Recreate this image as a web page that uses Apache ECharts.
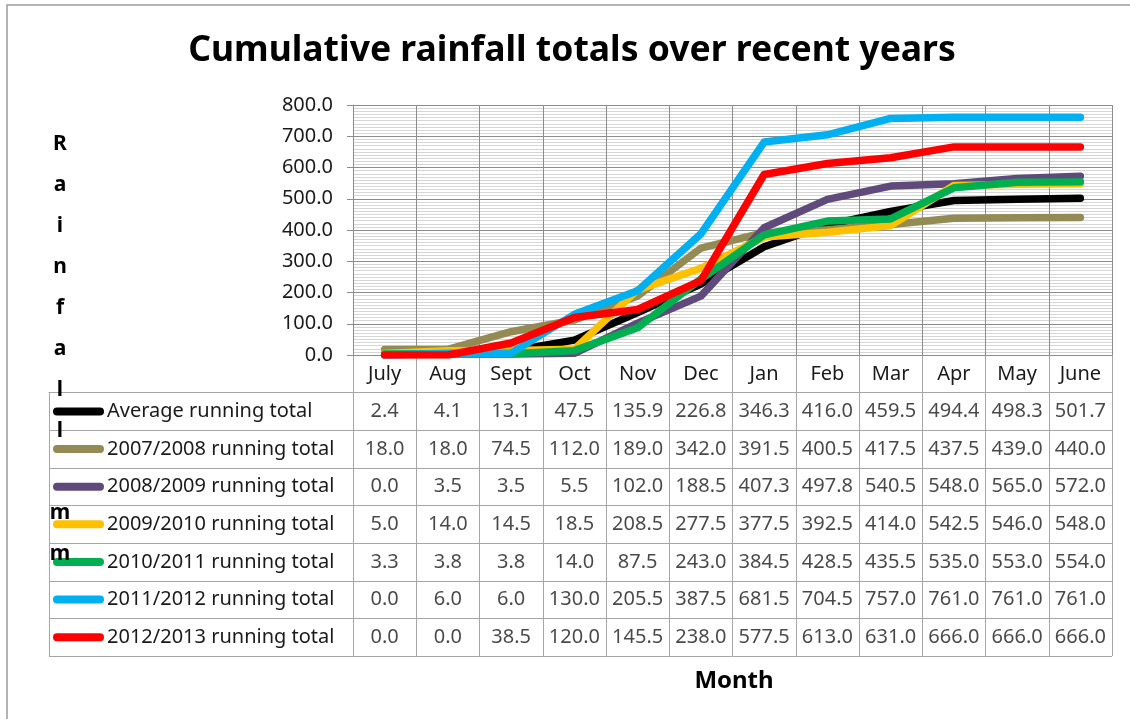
<!DOCTYPE html>
<html><head><meta charset="utf-8">
<script src="https://cdn.jsdelivr.net/npm/echarts@6/dist/echarts.min.js"></script>
<style>html,body{margin:0;padding:0;background:#fff}#c{width:1130px;height:719px}</style>
</head><body><div id="c"></div>
<script>
const months = ['July','Aug','Sept','Oct','Nov','Dec','Jan','Feb','Mar','Apr','May','June'];
const seriesNames = ['Average running total','2007/2008 running total','2008/2009 running total','2009/2010 running total','2010/2011 running total','2011/2012 running total','2012/2013 running total'];
const average = [2.4, 4.1, 13.1, 47.5, 135.9, 226.8, 346.3, 416.0, 459.5, 494.4, 498.3, 501.7];
const y2007 = [18.0, 18.0, 74.5, 112.0, 189.0, 342.0, 391.5, 400.5, 417.5, 437.5, 439.0, 440.0];
const y2008 = [0.0, 3.5, 3.5, 5.5, 102.0, 188.5, 407.3, 497.8, 540.5, 548.0, 565.0, 572.0];
const y2009 = [5.0, 14.0, 14.5, 18.5, 208.5, 277.5, 377.5, 392.5, 414.0, 542.5, 546.0, 548.0];
const y2010 = [3.3, 3.8, 3.8, 14.0, 87.5, 243.0, 384.5, 428.5, 435.5, 535.0, 553.0, 554.0];
const y2011 = [0.0, 6.0, 6.0, 130.0, 205.5, 387.5, 681.5, 704.5, 757.0, 761.0, 761.0, 761.0];
const y2012 = [0.0, 0.0, 38.5, 120.0, 145.5, 238.0, 577.5, 613.0, 631.0, 666.0, 666.0, 666.0];
const yMin = 0, yMax = 800, yStep = 100;

const allValues = [average, y2007, y2008, y2009, y2010, y2011, y2012];
const colors = ['#000000', '#948A54', '#604A7B', '#FFC000', '#00B050', '#00B0F0', '#FF0000'];
const FONT = 'Noto Sans';
const rowH = 301 / 8;

const rich = { t: { fontSize: 20, color: '#1a1a1a', fontFamily: FONT, padding: [0, 0, 0, 3] } };
colors.forEach((c, i) => { rich['k' + i] = { width: 51, height: 8, backgroundColor: c, borderRadius: 4 }; });

const cells = [];
allValues.forEach((arr, i) => arr.forEach((v, j) => cells.push([j, i + 1, v])));

const chart = echarts.init(document.getElementById('c'));
chart.setOption({
  animation: false,
  backgroundColor: '#fff',
  textStyle: { fontFamily: FONT },
  graphic: [{ type: 'rect', silent: true, shape: { x: 7, y: 5, width: 1300, height: 900 },
    style: { fill: 'none', stroke: '#9a9a9a', lineWidth: 1.5 } }],
  title: [
    { text: 'Cumulative rainfall totals over recent years', left: 567, top: 28, textAlign: 'center',
      textStyle: { fontSize: 35.5, fontWeight: 'bold', color: '#000', fontFamily: FONT } },
    { text: 'R\na\ni\nn\nf\na\nl\nl\n \nm\nm', left: 55, top: 119, textAlign: 'center',
      textStyle: { fontSize: 21, fontWeight: 'bold', color: '#000', lineHeight: 41, fontFamily: FONT } },
    { text: 'Month', left: 729, top: 664, textAlign: 'center',
      textStyle: { fontSize: 24, fontWeight: 'bold', color: '#000', fontFamily: FONT } }
  ],
  grid: [
    { left: 353, top: 105, width: 759, height: 250 },
    { left: 353, top: 355, width: 759, height: 301 },
    { left: 49, top: 355 + rowH, width: 304, height: 301 - rowH }
  ],
  xAxis: [
    { gridIndex: 0, type: 'category', data: months, boundaryGap: true,
      axisLine: { lineStyle: { color: '#8c8c8c', width: 1 } }, axisTick: { show: false },
      axisLabel: { margin: 9, fontSize: 20, color: '#1a1a1a', interval: 0 },
      splitLine: { show: true, interval: 0, lineStyle: { color: '#8c8c8c', width: 1 } } },
    { gridIndex: 1, type: 'category', data: months, boundaryGap: true,
      axisLine: { show: false }, axisTick: { show: false }, axisLabel: { show: false },
      splitLine: { show: true, interval: 0, lineStyle: { color: '#a6a6a6', width: 1 } } },
    { gridIndex: 2, type: 'category', data: [''], position: 'top',
      axisLine: { show: true, lineStyle: { color: '#a6a6a6', width: 1 } }, axisTick: { show: false },
      axisLabel: { show: false }, splitLine: { show: false } }
  ],
  yAxis: [
    { gridIndex: 0, type: 'value', min: yMin, max: yMax, interval: yStep,
      axisLine: { show: true, lineStyle: { color: '#8c8c8c', width: 1 } },
      axisTick: { show: true, length: 6, lineStyle: { color: '#8c8c8c' } },
      axisLabel: { margin: 20, fontSize: 20, color: '#1a1a1a', formatter: v => v.toFixed(1) },
      splitLine: { show: true, lineStyle: { color: '#8c8c8c', width: 1 } },
      minorTick: { show: false, splitNumber: 10 },
      minorSplitLine: { show: true, lineStyle: { color: '#d6d6d6', width: 1 } } },
    { gridIndex: 1, type: 'category', data: [''].concat(seriesNames), inverse: true,
      axisLine: { show: true, lineStyle: { color: '#a6a6a6', width: 1 } }, axisTick: { show: false },
      axisLabel: { show: false },
      splitLine: { show: true, interval: 0, lineStyle: { color: '#a6a6a6', width: 1 } } },
    { gridIndex: 2, type: 'category', data: seriesNames, inverse: true,
      axisLine: { show: true, lineStyle: { color: '#a6a6a6', width: 1 } }, axisTick: { show: false },
      axisLabel: { inside: true, margin: 4, interval: 0, formatter: (v, i) => '{k' + i + '|}{t|' + v + '}', rich: rich },
      splitLine: { show: true, interval: 0, lineStyle: { color: '#a6a6a6', width: 1 } } }
  ],
  series: allValues.map((arr, i) => ({
    name: seriesNames[i], type: 'line', xAxisIndex: 0, yAxisIndex: 0, data: arr,
    symbol: 'none', silent: true, color: colors[i],
    lineStyle: { width: 7.5, color: colors[i], cap: 'round', join: 'round' }, z: 3 + i
  })).concat([{
    type: 'scatter', xAxisIndex: 1, yAxisIndex: 1, data: cells, symbolSize: 0, silent: true,
    label: { show: true, position: 'inside', fontSize: 20, color: '#1a1a1a', fontFamily: FONT,
      formatter: p => p.value[2].toFixed(1) }
  }])
});
</script></body></html>
